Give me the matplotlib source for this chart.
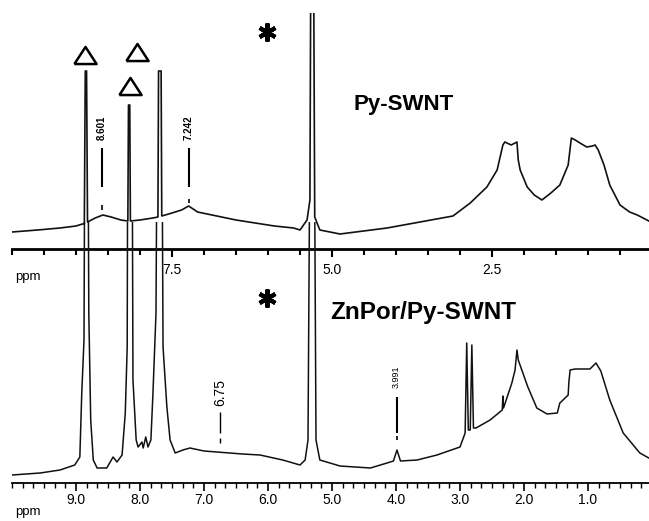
import numpy as np
import matplotlib
matplotlib.use('Agg')
import matplotlib.pyplot as plt
from matplotlib.ticker import MultipleLocator, FixedLocator

plt.rcParams['font.family'] = ['Liberation Sans', 'DejaVu Sans']

# upper spectrum: Py-SWNT (ppm, intensity in arbitrary units)
top_ppm = [10.0, 9.6, 9.25, 9.0, 8.9, 8.87, 8.855, 8.835, 8.82, 8.7, 8.58, 8.45,
           8.3, 8.19, 8.18, 8.16, 8.15, 8.0, 7.8, 7.72, 7.71, 7.67, 7.66, 7.5,
           7.35, 7.24, 7.1, 6.8, 6.5, 6.2, 5.9, 5.6, 5.5, 5.39, 5.345, 5.325,
           5.295, 5.27, 5.19, 4.875, 4.14, 3.625, 3.11, 2.84, 2.58, 2.42, 2.33,
           2.3, 2.2, 2.11, 2.09, 2.06, 1.95, 1.84, 1.72, 1.58, 1.44, 1.31, 1.26,
           1.2, 1.1, 1.02, 0.93, 0.89, 0.84, 0.75, 0.66, 0.5, 0.35, 0.23, 0.05]
top_int = [17, 19, 21, 23, 25, 25, 178, 178, 27, 31, 34, 32,
           29, 28, 144, 144, 28, 29, 31, 32, 178, 178, 33, 36,
           39, 43, 37, 33, 29, 26, 23, 21, 19, 29, 49, 400,
           400, 32, 19, 15, 21, 27, 33, 46, 62, 79, 104,
           107, 104, 107, 89, 79, 62, 54, 49, 56, 64, 84, 111,
           109, 105, 102, 103, 104, 99, 84, 64, 44, 37, 34, 28]

# lower spectrum: ZnPor/Py-SWNT
low_ppm = [10.0, 9.56, 9.25, 9.02, 8.94, 8.91, 8.875, 8.86, 8.815, 8.8, 8.77,
           8.73, 8.67, 8.52, 8.42, 8.36, 8.28, 8.23, 8.2, 8.19, 8.125, 8.11,
           8.06, 8.03, 7.97, 7.95, 7.91, 7.875, 7.83, 7.8, 7.75, 7.73, 7.66,
           7.64, 7.58, 7.53, 7.45, 7.33, 7.22, 7.0, 6.8, 6.4, 6.125, 5.77, 5.5,
           5.42, 5.375, 5.34, 5.28, 5.25, 5.19, 4.875, 4.4, 4.14, 4.04, 3.985,
           3.93, 3.67, 3.36, 3.0, 2.92, 2.895, 2.87, 2.84, 2.815, 2.79, 2.75,
           2.53, 2.34, 2.33, 2.32, 2.19, 2.14, 2.11, 2.09, 1.94, 1.8, 1.64,
           1.48, 1.44, 1.39, 1.31, 1.3, 1.28, 1.2, 1.05, 0.97, 0.875, 0.8,
           0.66, 0.45, 0.19, 0.05]
low_int = [8, 10, 13, 18, 26, 90, 143, 400, 400, 170, 63,
           23, 15, 15, 26, 21, 28, 70, 136, 400, 400, 103,
           43, 36, 41, 35, 46, 36, 43, 86, 170, 400, 400,
           136, 76, 43, 30, 33, 35, 32, 31, 29, 28, 23, 18,
           23, 43, 400, 400, 43, 23, 17, 15, 20, 22, 33,
           22, 23, 28, 36, 50, 140, 53, 53, 138, 55, 55,
           63, 73, 87, 75, 100, 113, 133, 123, 96, 75, 69,
           70, 80, 83, 88, 100, 113, 114, 114, 114, 120, 112,
           83, 50, 30, 25]

# peak picks
top_picks = [8.601, 7.242]
low_picks = [6.75, 3.991]

W, H = 649, 521
fig = plt.figure(figsize=(W / 100, H / 100), dpi=100)
ax_top = fig.add_axes([12 / W, 1 - 249 / H, 637 / W, (249 - 13) / H])
ax_low = fig.add_axes([12 / W, 1 - 483 / H, 637 / W, (483 - 222) / H])

for ax in (ax_top, ax_low):
    ax.patch.set_visible(False)
    for s in ('top', 'left', 'right'):
        ax.spines[s].set_visible(False)
    ax.set_yticks([])
    ax.set_xlim(10.0, 0.047)

ax_top.set_ylim(0, 236)
ax_low.set_ylim(0, 261)

ax_top.plot(top_ppm, top_int, color='#111111', lw=1.2)
ax_low.plot(low_ppm, low_int, color='#111111', lw=1.1)

# axes styling
ax_top.spines['bottom'].set_linewidth(2.0)
ax_top.xaxis.set_major_locator(FixedLocator([7.5, 5.0, 2.5]))
ax_top.xaxis.set_minor_locator(MultipleLocator(0.5))
ax_top.set_xticklabels(['7.5', '5.0', '2.5'])
ax_top.tick_params(axis='x', which='major', length=6, width=1.5, pad=4, labelsize=10)
ax_top.tick_params(axis='x', which='minor', length=4, width=1.5)

ax_low.spines['bottom'].set_linewidth(1.3)
ax_low.xaxis.set_major_locator(FixedLocator([9, 8, 7, 6, 5, 4, 3, 2, 1]))
ax_low.xaxis.set_minor_locator(MultipleLocator(1 / 6))
ax_low.set_xticklabels(['9.0', '8.0', '7.0', '6.0', '5.0', '4.0', '3.0', '2.0', '1.0'])
ax_low.tick_params(axis='x', which='major', length=6, width=1.2, pad=1, labelsize=10)
ax_low.tick_params(axis='x', which='minor', length=3.5, width=1.0)

fig.text(15 / W, 1 - 277 / H, 'ppm', fontsize=9.5, va='center', ha='left')
fig.text(15 / W, 1 - 512 / H, 'ppm', fontsize=9.5, va='center', ha='left')

# peak pick labels
for p in top_picks:
    ax_top.text(p, 121, '%.3f' % p, rotation=90, ha='center', va='center',
                fontsize=7, fontweight='bold')
    ax_top.vlines(p, 62, 101, color='black', lw=1.5)
ax_top.vlines(top_picks[0], 39, 44, color='black', lw=1.2)
ax_top.vlines(top_picks[1], 46, 50, color='black', lw=1.2)

ax_low.text(low_picks[0], 90, '6.75', rotation=90, ha='center', va='center', fontsize=10)
ax_low.vlines(low_picks[0], 50, 71, color='black', lw=1.0)
ax_low.vlines(low_picks[0], 40, 45, color='black', lw=1.0)
ax_low.text(low_picks[1], 106, '%.3f' % low_picks[1], rotation=90, ha='center',
            va='center', fontsize=6.5)
ax_low.vlines(low_picks[1], 50, 86, color='black', lw=1.5)
ax_low.vlines(low_picks[1], 43, 47, color='black', lw=1.2)

# sample names
ax_top.text(3.875, 144, 'Py-SWNT', ha='center', va='center', fontsize=16,
            fontweight='bold')
ax_low.text(3.58, 170, 'ZnPor/Py-SWNT', ha='center', va='center', fontsize=17.5,
            fontweight='bold')

# triangles marking porphyrin/pyrene peaks and asterisks for solvent
tri = [(-1.3, -1), (1.3, -1), (0, 1), (-1.3, -1)]
ax_top.plot([8.86, 8.16, 8.05], [194, 163, 197], linestyle='none', marker=tri,
            markersize=16, mfc='none', mec='black', mew=1.8, clip_on=False)
ax_top.plot([6.02], [217], linestyle='none', marker=(6, 2, 0), markersize=13,
            mec='black', mew=3, clip_on=False)
ax_low.plot([6.02], [185], linestyle='none', marker=(6, 2, 0), markersize=13,
            mec='black', mew=3, clip_on=False)

fig.savefig('out.png', dpi=100)
